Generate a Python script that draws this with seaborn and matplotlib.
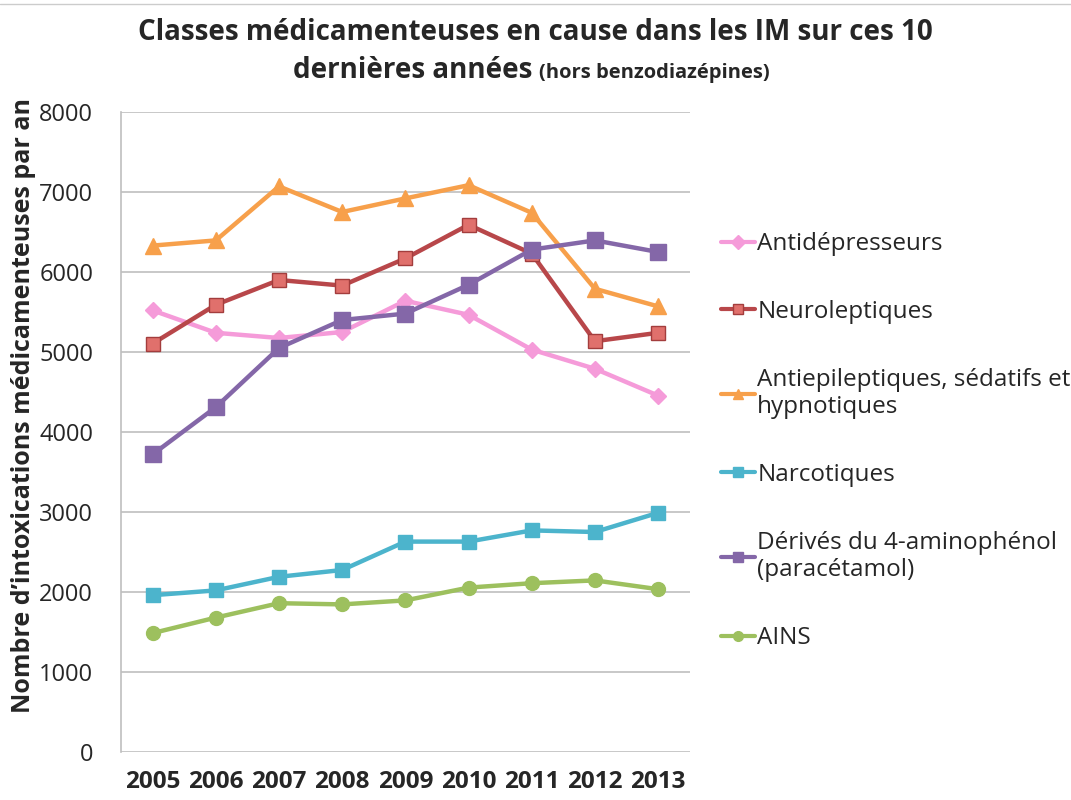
import matplotlib
matplotlib.use('Agg')
import matplotlib.pyplot as plt
import seaborn as sns
import pandas as pd
from matplotlib.lines import Line2D

years = [2005, 2006, 2007, 2008, 2009, 2010, 2011, 2012, 2013]

antidepresseurs = [5520, 5240, 5175, 5250, 5640, 5465, 5030, 4790, 4455]
neuroleptiques = [5105, 5590, 5900, 5830, 6170, 6590, 6230, 5135, 5240]
antiepileptiques = [6330, 6395, 7070, 6750, 6920, 7085, 6740, 5790, 5570]
narcotiques = [1960, 2020, 2190, 2275, 2630, 2630, 2770, 2750, 2990]
derives = [3720, 4310, 5050, 5400, 5480, 5840, 6280, 6395, 6250]
ains = [1486, 1680, 1860, 1845, 1895, 2055, 2110, 2145, 2035]

labels = ['Antidépresseurs', 'Neuroleptiques', 'Antiepileptiques, sédatifs et\nhypnotiques',
          'Narcotiques', 'Dérivés du 4-aminophénol\n(paracétamol)', 'AINS']
series = [antidepresseurs, neuroleptiques, antiepileptiques, narcotiques, derives, ains]

# line colour, marker face, marker edge, marker
styles = [
    ('#F59BD9', '#F59BD9', '#F59BD9', 'D'),
    ('#B8474A', '#E0706C', '#A33D3D', 's'),
    ('#F7A04B', '#F7A04B', '#F7A04B', '^'),
    ('#4CB4CC', '#4CB4CC', '#4CB4CC', 's'),
    ('#8467A8', '#8467A8', '#8467A8', 's'),
    ('#9DC05E', '#9DC05E', '#9DC05E', 'o'),
]
msizes = [8, 10, 11, 10, 11, 10]


def main():
    sns.set_style('white')
    plt.rcParams['font.family'] = ['Open Sans', 'DejaVu Sans']

    fig = plt.figure(figsize=(10.71, 8), dpi=100)
    ax = fig.add_axes([0.113, 0.06, 0.531, 0.80])

    for lab, vals, (lc, fc, ec, mk), ms in zip(labels, series, styles, msizes):
        df = pd.DataFrame({'year': years, 'value': vals})
        sns.lineplot(data=df, x='year', y='value', ax=ax, color=lc, linewidth=3.2,
                     marker=mk, markersize=ms, markerfacecolor=fc, markeredgecolor=ec,
                     markeredgewidth=1, label=lab, zorder=3)

    ax.set_xlim(2004.5, 2013.5)
    ax.set_ylim(0, 8000)
    ax.set_xticks(years)
    ax.set_xticklabels([str(y) for y in years], fontsize=17.5, fontweight='bold')
    ax.set_yticks(range(0, 8001, 1000))
    ax.tick_params(axis='y', labelsize=17, length=0, pad=20)
    ax.tick_params(axis='x', length=0, pad=13)
    ax.grid(axis='y', color='#BFBFBF', linewidth=1.2)
    ax.set_axisbelow(True)
    for side in ['top', 'right', 'bottom']:
        ax.spines[side].set_visible(False)
    ax.spines['left'].set_color('#BFBFBF')
    ax.spines['left'].set_linewidth(1.2)
    ax.set_xlabel('')
    ax.set_ylabel('Nombre d\u2019intoxications médicamenteuses par an', fontsize=18,
                  fontweight='bold')
    ax.yaxis.set_label_coords(-0.149, 0.542)

    leg = ax.legend(loc='upper left', bbox_to_anchor=(0.664, 0.722), bbox_transform=fig.transFigure,
                    frameon=False, fontsize=17.5, labelspacing=1.8, handlelength=1.4,
                    handletextpad=0.1, borderaxespad=0)
    for h in leg.get_lines():
        h.set_linewidth(3)
        h.set_markersize(7)

    fig.text(0.5, 0.95, 'Classes médicamenteuses en cause dans les IM sur ces 10',
             ha='center', va='baseline', fontsize=20, fontweight='bold')
    fig.text(0.497, 0.9025, 'dernières années', ha='right', va='baseline', fontsize=20,
             fontweight='bold')
    fig.text(0.503, 0.9025, '(hors benzodiazépines)', ha='left', va='baseline', fontsize=14.5,
             fontweight='bold')

    # thin border line at the top of the image
    fig.add_artist(Line2D([0, 1], [0.995, 0.995], color='#CCCCCC', linewidth=1,
                          transform=fig.transFigure))

    plt.savefig('out.png', dpi=100)


if __name__ == "__main__":
    main()
